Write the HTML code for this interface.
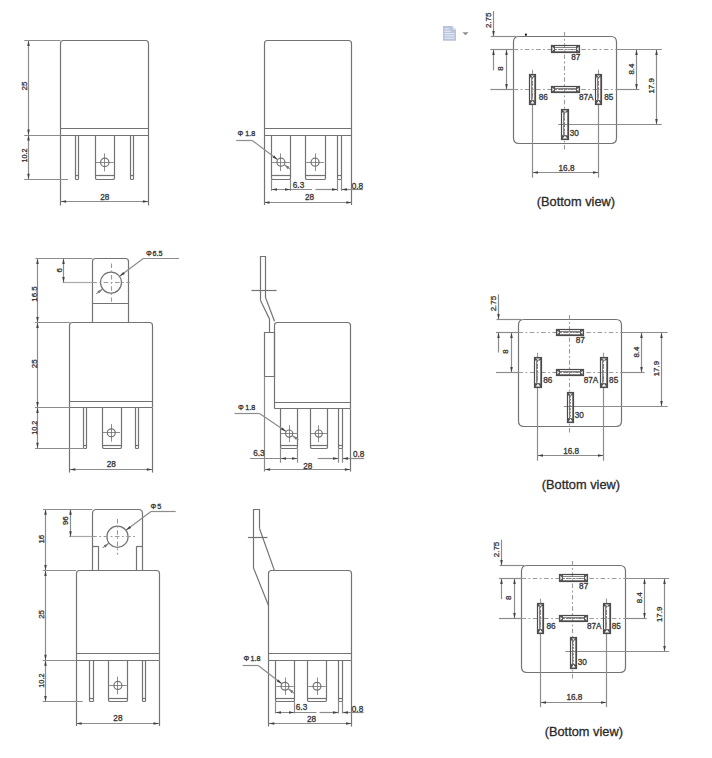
<!DOCTYPE html>
<html><head><meta charset="utf-8"><style>
html,body{margin:0;padding:0;background:#fff;}
svg{display:block;}
.l{stroke:#737373;stroke-width:1.2;fill:none;}
.d{stroke:#8c8c8c;stroke-width:1.2;fill:none;}
.c{stroke:#9a9a9a;stroke-width:1.1;fill:none;stroke-dasharray:4.5 2.5 1.8 2.5;}
.dl{stroke:#a8a8a8;stroke-width:1.2;fill:none;}
.h{stroke:#707070;stroke-width:0.8;fill:none;}
.a{fill:#404040;stroke:none;}
.pk{fill:none;stroke:#4a4a4a;stroke-width:1.2;}
.pi{fill:none;stroke:#666;stroke-width:0.8;}
.pc{fill:none;stroke:#7a6a6a;stroke-width:0.8;stroke-dasharray:2 1.2;}
.dot{fill:#111;stroke:none;}
.t{font-family:"Liberation Sans",sans-serif;fill:#353535;stroke:#353535;stroke-width:0.3;}
.tb{font-family:"Liberation Sans",sans-serif;fill:#2a2a2a;stroke:#2a2a2a;stroke-width:0.3;}
</style></head><body>
<svg width="712" height="758" viewBox="0 0 712 758">
<rect width="712" height="758" fill="#fff"/>
<path d="M60.5,135V43.5Q60.5,40.5 63.5,40.5H145.5Q148.5,40.5 148.5,43.5V135" class="l"/>
<line x1="60.6" y1="128.5" x2="148.4" y2="128.5" class="l"/>
<line x1="60.6" y1="135.5" x2="148.4" y2="135.5" class="l"/>
<line x1="60.5" y1="135" x2="60.5" y2="205.5" class="l"/>
<line x1="148.5" y1="135" x2="148.5" y2="205.5" class="l"/>
<path d="M75.5,135V178.7Q75.5,179.5 76.3,179.5H77.7Q78.5,179.5 78.5,178.7V135" class="l"/>
<line x1="75.5" y1="175.5" x2="78.5" y2="175.5" class="l"/>
<path d="M95.5,135V177.9Q95.5,179.5 97.1,179.5H112.9Q114.5,179.5 114.5,177.9V135" class="l"/>
<line x1="95.5" y1="175.5" x2="114.5" y2="175.5" class="l"/>
<path d="M130.5,135V178.7Q130.5,179.5 131.3,179.5H132.7Q133.5,179.5 133.5,178.7V135" class="l"/>
<line x1="130.5" y1="175.5" x2="133.5" y2="175.5" class="l"/>
<circle cx="104.8" cy="162.4" r="4.2" class="l"/>
<line x1="95.8" y1="162.5" x2="113.8" y2="162.5" class="h"/>
<line x1="104.5" y1="153.4" x2="104.5" y2="171.4" class="h"/>
<line x1="24.2" y1="135.5" x2="60.6" y2="135.5" class="d"/>
<line x1="24.2" y1="179.5" x2="68" y2="179.5" class="d"/>
<line x1="28.5" y1="135" x2="28.5" y2="179.2" class="d"/>
<path d="M28.5,135L29.75,140.5L27.25,140.5Z" class="a"/>
<path d="M28.5,179.2L27.25,173.7L29.75,173.7Z" class="a"/>
<line x1="60.6" y1="201.5" x2="148.4" y2="201.5" class="d"/>
<path d="M60.6,201.5L66.1,200.25L66.1,202.75Z" class="a"/>
<path d="M148.4,201.5L142.9,202.75L142.9,200.25Z" class="a"/>
<line x1="28.5" y1="40.5" x2="28.5" y2="135" class="d"/>
<path d="M28.5,40.5L29.75,46L27.25,46Z" class="a"/>
<path d="M28.5,135L27.25,129.5L29.75,129.5Z" class="a"/>
<line x1="24.2" y1="40.5" x2="60.6" y2="40.5" class="d"/>
<text x="0" y="0" font-size="7.9" text-anchor="middle" dominant-baseline="central" class="t" transform="translate(24.6,86) rotate(-90) scale(1.0,1)">25</text>
<text x="0" y="0" font-size="7.9" text-anchor="middle" dominant-baseline="central" class="t" transform="translate(24.6,155.5) rotate(-90) scale(0.92,1)">10.2</text>
<text x="104.7" y="199.9" font-size="8.2" text-anchor="middle" class="t">28</text>
<path d="M69.5,407.6V325.5Q69.5,322.5 72.5,322.5H149.5Q152.5,322.5 152.5,325.5V407.6" class="l"/>
<line x1="69.8" y1="401.5" x2="152.3" y2="401.5" class="l"/>
<line x1="69.8" y1="407.5" x2="152.3" y2="407.5" class="l"/>
<line x1="69.5" y1="407.6" x2="69.5" y2="472.6" class="l"/>
<line x1="152.5" y1="407.6" x2="152.5" y2="472.6" class="l"/>
<path d="M83.5,407.6V447.7Q83.5,448.5 84.3,448.5H85.7Q86.5,448.5 86.5,447.7V407.6" class="l"/>
<line x1="83.5" y1="445.5" x2="86.5" y2="445.5" class="l"/>
<path d="M102.5,407.6V446.9Q102.5,448.5 104.1,448.5H119.9Q121.5,448.5 121.5,446.9V407.6" class="l"/>
<line x1="102.5" y1="445.5" x2="121.5" y2="445.5" class="l"/>
<path d="M135.5,407.6V447.7Q135.5,448.5 136.3,448.5H137.7Q138.5,448.5 138.5,447.7V407.6" class="l"/>
<line x1="135.5" y1="445.5" x2="138.5" y2="445.5" class="l"/>
<circle cx="111.3" cy="432.8" r="4" class="l"/>
<line x1="102.5" y1="432.5" x2="120.1" y2="432.5" class="h"/>
<line x1="111.5" y1="424" x2="111.5" y2="441.6" class="h"/>
<line x1="35" y1="407.5" x2="69.8" y2="407.5" class="d"/>
<line x1="35" y1="448.5" x2="83" y2="448.5" class="d"/>
<line x1="37.5" y1="407.6" x2="37.5" y2="448.3" class="d"/>
<path d="M37.5,407.6L38.75,413.1L36.25,413.1Z" class="a"/>
<path d="M37.5,448.3L36.25,442.8L38.75,442.8Z" class="a"/>
<line x1="69.8" y1="469.5" x2="152.3" y2="469.5" class="d"/>
<path d="M69.8,469.5L75.3,468.25L75.3,470.75Z" class="a"/>
<path d="M152.3,469.5L146.8,470.75L146.8,468.25Z" class="a"/>
<line x1="37.5" y1="322.5" x2="37.5" y2="407.6" class="d"/>
<path d="M37.5,322.5L38.75,328L36.25,328Z" class="a"/>
<path d="M37.5,407.6L36.25,402.1L38.75,402.1Z" class="a"/>
<line x1="37.5" y1="258.4" x2="37.5" y2="322.5" class="d"/>
<path d="M37.5,258.4L38.75,263.9L36.25,263.9Z" class="a"/>
<path d="M37.5,322.5L36.25,317L38.75,317Z" class="a"/>
<line x1="35" y1="322.5" x2="69.8" y2="322.5" class="d"/>
<line x1="35.5" y1="258.5" x2="92.4" y2="258.5" class="d"/>
<path d="M92.5,322.1V261.5Q92.5,258.5 95.5,258.5H125.5Q128.5,258.5 128.5,261.5V322.1" class="l"/>
<line x1="92.4" y1="303.5" x2="128.4" y2="303.5" class="l"/>
<circle cx="111" cy="282.6" r="10.5" class="l"/>
<line x1="62.7" y1="282.5" x2="92.4" y2="282.5" class="dl"/>
<line x1="92.4" y1="282.5" x2="130" y2="282.5" class="c"/>
<line x1="111.5" y1="263.6" x2="111.5" y2="301.8" class="c"/>
<line x1="63.5" y1="258.4" x2="63.5" y2="282.6" class="d"/>
<path d="M63.5,258.4L64.75,263.9L62.25,263.9Z" class="a"/>
<path d="M63.5,282.6L62.25,277.1L64.75,277.1Z" class="a"/>
<text x="0" y="0" font-size="7.9" text-anchor="middle" dominant-baseline="central" class="t" transform="translate(59.4,270.3) rotate(-90) scale(1.0,1)">6</text>
<text x="0" y="0" font-size="7.9" text-anchor="middle" dominant-baseline="central" class="t" transform="translate(34,294) rotate(-90) scale(1.0,1)">16.5</text>
<text x="0" y="0" font-size="7.9" text-anchor="middle" dominant-baseline="central" class="t" transform="translate(34,363.8) rotate(-90) scale(1.0,1)">25</text>
<text x="0" y="0" font-size="7.9" text-anchor="middle" dominant-baseline="central" class="t" transform="translate(34,427.7) rotate(-90) scale(0.92,1)">10.2</text>
<text x="111.2" y="466.9" font-size="8.2" text-anchor="middle" class="t">28</text>
<line x1="143.6" y1="258.5" x2="179" y2="258.5" class="d"/>
<line x1="143.6" y1="258.3" x2="119.58" y2="276.34" class="d"/>
<path d="M119.58,276.34L123.22,272.03L124.73,274.03Z" class="a"/>
<path d="M102.62,289.06L98.98,293.37L97.47,291.37Z" class="a"/>
<line x1="102.62" y1="289.06" x2="96.23" y2="293.87" class="d"/>
<text x="145.9" y="256.1" font-size="7.2" text-anchor="start" class="t">Φ</text>
<text x="152.5" y="256.1" font-size="7.2" text-anchor="start" class="t">6.5</text>
<path d="M76.5,660.3V573.5Q76.5,570.5 79.5,570.5H156.5Q159.5,570.5 159.5,573.5V660.3" class="l"/>
<line x1="76.1" y1="653.5" x2="159" y2="653.5" class="l"/>
<line x1="76.1" y1="660.5" x2="159" y2="660.5" class="l"/>
<line x1="76.5" y1="660.3" x2="76.5" y2="726" class="l"/>
<line x1="159.5" y1="660.3" x2="159.5" y2="726" class="l"/>
<path d="M89.5,660.3V700.7Q89.5,701.5 90.3,701.5H92.7Q93.5,701.5 93.5,700.7V660.3" class="l"/>
<line x1="89.5" y1="698.5" x2="93.5" y2="698.5" class="l"/>
<path d="M108.5,660.3V699.9Q108.5,701.5 110.1,701.5H125.9Q127.5,701.5 127.5,699.9V660.3" class="l"/>
<line x1="108.5" y1="698.5" x2="127.5" y2="698.5" class="l"/>
<path d="M142.5,660.3V700.7Q142.5,701.5 143.3,701.5H144.7Q145.5,701.5 145.5,700.7V660.3" class="l"/>
<line x1="142.5" y1="698.5" x2="145.5" y2="698.5" class="l"/>
<circle cx="117.9" cy="685.4" r="4" class="l"/>
<line x1="109.1" y1="685.5" x2="126.7" y2="685.5" class="h"/>
<line x1="117.5" y1="676.6" x2="117.5" y2="694.2" class="h"/>
<line x1="42.7" y1="660.5" x2="76.1" y2="660.5" class="d"/>
<line x1="42.7" y1="701.5" x2="82.6" y2="701.5" class="d"/>
<line x1="45.5" y1="660.3" x2="45.5" y2="701.4" class="d"/>
<path d="M45.5,660.3L46.75,665.8L44.25,665.8Z" class="a"/>
<path d="M45.5,701.4L44.25,695.9L46.75,695.9Z" class="a"/>
<line x1="76.1" y1="723.5" x2="159" y2="723.5" class="d"/>
<path d="M76.1,723.5L81.6,722.25L81.6,724.75Z" class="a"/>
<path d="M159,723.5L153.5,724.75L153.5,722.25Z" class="a"/>
<line x1="45.5" y1="570.5" x2="45.5" y2="660.3" class="d"/>
<path d="M45.5,570.5L46.75,576L44.25,576Z" class="a"/>
<path d="M45.5,660.3L44.25,654.8L46.75,654.8Z" class="a"/>
<line x1="45.5" y1="509.3" x2="45.5" y2="570.5" class="d"/>
<path d="M45.5,509.3L46.75,514.8L44.25,514.8Z" class="a"/>
<path d="M45.5,570.5L44.25,565L46.75,565Z" class="a"/>
<line x1="42.7" y1="570.5" x2="76.1" y2="570.5" class="d"/>
<line x1="43" y1="509.5" x2="92.3" y2="509.5" class="d"/>
<path d="M92.5,570.5V513.5Q92.5,509.5 96.5,509.5H138.5Q142.5,509.5 142.5,513.5V570.5" class="l"/>
<line x1="92.3" y1="546.5" x2="98.8" y2="546.5" class="l"/>
<line x1="98.5" y1="546.3" x2="98.5" y2="570.5" class="l"/>
<line x1="136.5" y1="546.5" x2="142.3" y2="546.5" class="l"/>
<line x1="136.5" y1="546.3" x2="136.5" y2="570.5" class="l"/>
<circle cx="117.5" cy="536.7" r="10.6" class="l"/>
<line x1="69" y1="536.5" x2="92.3" y2="536.5" class="dl"/>
<line x1="92.3" y1="536.5" x2="137" y2="536.5" class="c"/>
<line x1="117.5" y1="518.9" x2="117.5" y2="554.7" class="c"/>
<line x1="70.5" y1="509.3" x2="70.5" y2="536.7" class="d"/>
<path d="M70.5,509.3L71.75,514.8L69.25,514.8Z" class="a"/>
<path d="M70.5,536.7L69.25,531.2L71.75,531.2Z" class="a"/>
<text x="0" y="0" font-size="7.9" text-anchor="middle" dominant-baseline="central" class="t" transform="translate(65.5,520.7) rotate(-90) scale(1.0,1)">96</text>
<text x="0" y="0" font-size="7.9" text-anchor="middle" dominant-baseline="central" class="t" transform="translate(41.8,539.2) rotate(-90) scale(1.0,1)">16</text>
<text x="0" y="0" font-size="7.9" text-anchor="middle" dominant-baseline="central" class="t" transform="translate(41.8,614.4) rotate(-90) scale(1.0,1)">25</text>
<text x="0" y="0" font-size="7.9" text-anchor="middle" dominant-baseline="central" class="t" transform="translate(41.8,680.6) rotate(-90) scale(0.92,1)">10.2</text>
<text x="117.9" y="720.6" font-size="8.2" text-anchor="middle" class="t">28</text>
<line x1="151" y1="511.5" x2="175.7" y2="511.5" class="d"/>
<line x1="151" y1="511.5" x2="125.97" y2="530.33" class="d"/>
<path d="M125.97,530.33L129.61,526.02L131.12,528.02Z" class="a"/>
<path d="M109.03,543.07L105.39,547.38L103.88,545.38Z" class="a"/>
<line x1="109.03" y1="543.07" x2="102.64" y2="547.88" class="d"/>
<text x="150.4" y="509.4" font-size="7.2" text-anchor="start" class="t">Φ</text>
<text x="157.2" y="509.4" font-size="7.2" text-anchor="start" class="t">5</text>
<path d="M264.5,135.2V43.5Q264.5,40.5 267.5,40.5H348.5Q351.5,40.5 351.5,43.5V135.2" class="l"/>
<line x1="264" y1="128.5" x2="351.8" y2="128.5" class="l"/>
<line x1="264" y1="135.5" x2="351.8" y2="135.5" class="l"/>
<line x1="351.5" y1="135.2" x2="351.5" y2="205" class="l"/>
<line x1="264.5" y1="135.2" x2="264.5" y2="205" class="l"/>
<path d="M271.5,135.2V177.9Q271.5,179.5 273.1,179.5H288.9Q290.5,179.5 290.5,177.9V135.2" class="l"/>
<line x1="271.5" y1="175.5" x2="290.5" y2="175.5" class="l"/>
<path d="M305.5,135.2V177.9Q305.5,179.5 307.1,179.5H323.9Q325.5,179.5 325.5,177.9V135.2" class="l"/>
<line x1="305.5" y1="175.5" x2="325.5" y2="175.5" class="l"/>
<path d="M337.5,135.2V179Q337.5,179.5 338,179.5H341Q341.5,179.5 341.5,179V135.2" class="l"/>
<line x1="337.5" y1="175.5" x2="341.5" y2="175.5" class="l"/>
<circle cx="280.95" cy="162.2" r="4" class="l"/>
<line x1="272.15" y1="162.5" x2="289.75" y2="162.5" class="h"/>
<line x1="280.5" y1="153.4" x2="280.5" y2="171" class="h"/>
<circle cx="315.1" cy="162.2" r="4" class="l"/>
<line x1="306.3" y1="162.5" x2="323.9" y2="162.5" class="h"/>
<line x1="315.5" y1="153.4" x2="315.5" y2="171" class="h"/>
<line x1="264" y1="202.5" x2="351.8" y2="202.5" class="d"/>
<path d="M264,202.5L269.5,201.25L269.5,203.75Z" class="a"/>
<path d="M351.8,202.5L346.3,203.75L346.3,201.25Z" class="a"/>
<line x1="271.5" y1="179.2" x2="271.5" y2="190.9" class="d"/>
<line x1="290.5" y1="179.2" x2="290.5" y2="190.9" class="d"/>
<line x1="337.5" y1="179.2" x2="337.5" y2="190.9" class="d"/>
<line x1="341.5" y1="179.2" x2="341.5" y2="190.9" class="d"/>
<line x1="271.1" y1="189.5" x2="312" y2="189.5" class="d"/>
<path d="M271.5,189.5L277,188.25L277,190.75Z" class="a"/>
<path d="M290.5,189.5L285,190.75L285,188.25Z" class="a"/>
<line x1="315.5" y1="189.5" x2="337.6" y2="189.5" class="d"/>
<path d="M337.5,189.5L332,190.75L332,188.25Z" class="a"/>
<line x1="341.8" y1="189.5" x2="363" y2="189.5" class="d"/>
<path d="M341.5,189.5L347,188.25L347,190.75Z" class="a"/>
<text x="298.5" y="187.7" font-size="8.2" text-anchor="middle" class="t">6.3</text>
<text x="357.4" y="189.2" font-size="8.2" text-anchor="middle" class="t">0.8</text>
<text x="309.6" y="199.9" font-size="8.2" text-anchor="middle" class="t">28</text>
<text x="237.5" y="136.3" font-size="7.2" text-anchor="start" class="t">Φ</text>
<text x="245.2" y="136.3" font-size="7.2" text-anchor="start" class="t">1.8</text>
<line x1="236.2" y1="140.5" x2="252.2" y2="140.5" class="d"/>
<line x1="252.2" y1="140.5" x2="277.76" y2="159.79" class="d"/>
<path d="M277.76,159.79L272.61,157.47L274.12,155.48Z" class="a"/>
<path d="M284.14,164.61L289.29,166.93L287.78,168.92Z" class="a"/>
<line x1="284.14" y1="164.61" x2="290.13" y2="169.13" class="d"/>
<line x1="274.4" y1="402.5" x2="350.3" y2="402.5" class="l"/>
<line x1="274.4" y1="408.5" x2="350.3" y2="408.5" class="l"/>
<line x1="350.5" y1="408.6" x2="350.5" y2="471.6" class="l"/>
<path d="M280.5,408.6V446.9Q280.5,448.5 282.1,448.5H295.9Q297.5,448.5 297.5,446.9V408.6" class="l"/>
<line x1="280.5" y1="445.5" x2="297.5" y2="445.5" class="l"/>
<path d="M310.5,408.6V446.9Q310.5,448.5 312.1,448.5H325.9Q327.5,448.5 327.5,446.9V408.6" class="l"/>
<line x1="310.5" y1="445.5" x2="327.5" y2="445.5" class="l"/>
<path d="M338.5,408.6V448Q338.5,448.5 339,448.5H342Q342.5,448.5 342.5,448V408.6" class="l"/>
<line x1="338.5" y1="445.5" x2="342.5" y2="445.5" class="l"/>
<circle cx="289.15" cy="433.6" r="3.6" class="l"/>
<line x1="280.75" y1="433.5" x2="297.55" y2="433.5" class="h"/>
<line x1="289.5" y1="425.2" x2="289.5" y2="442" class="h"/>
<circle cx="318.75" cy="433.6" r="3.6" class="l"/>
<line x1="310.35" y1="433.5" x2="327.15" y2="433.5" class="h"/>
<line x1="318.5" y1="425.2" x2="318.5" y2="442" class="h"/>
<line x1="264.6" y1="469.5" x2="350.3" y2="469.5" class="d"/>
<path d="M264.6,469.5L270.1,468.25L270.1,470.75Z" class="a"/>
<path d="M350.3,469.5L344.8,470.75L344.8,468.25Z" class="a"/>
<line x1="280.5" y1="448.6" x2="280.5" y2="462.8" class="d"/>
<line x1="297.5" y1="448.6" x2="297.5" y2="462.8" class="d"/>
<line x1="338.5" y1="448.6" x2="338.5" y2="462.8" class="d"/>
<line x1="342.5" y1="448.6" x2="342.5" y2="462.8" class="d"/>
<path d="M274.5,408.6V325.2Q274.5,322.5 277.5,322.5H347.5Q350.5,322.5 350.5,325.5V408.6" class="l"/>
<path d="M260.5,300.5V256.5H265.5V297.5L274.5,321.3" class="l"/>
<path d="M260.5,300.5L269.5,318.9V332.5" class="l"/>
<path d="M264.5,376.5V332.5H274.5V376.5H264.5Z" class="l"/>
<path d="M264.5,376.5V471.6" class="d"/>
<line x1="251.5" y1="290.5" x2="276.5" y2="290.5" class="l"/>
<line x1="250" y1="458.5" x2="297.8" y2="458.5" class="d"/>
<path d="M280.5,458.5L286,457.25L286,459.75Z" class="a"/>
<path d="M297.5,458.5L292,459.75L292,457.25Z" class="a"/>
<line x1="317.6" y1="458.5" x2="338.1" y2="458.5" class="d"/>
<path d="M338.5,458.5L333,459.75L333,457.25Z" class="a"/>
<line x1="342.1" y1="458.5" x2="364.2" y2="458.5" class="d"/>
<path d="M342.5,458.5L348,457.25L348,459.75Z" class="a"/>
<text x="258.9" y="455.8" font-size="8.2" text-anchor="middle" class="t">6.3</text>
<text x="358.6" y="456.8" font-size="8.2" text-anchor="middle" class="t">0.8</text>
<text x="307.8" y="469.2" font-size="8.2" text-anchor="middle" class="t">28</text>
<text x="238.1" y="409.7" font-size="7.2" text-anchor="start" class="t">Φ</text>
<text x="245.2" y="409.7" font-size="7.2" text-anchor="start" class="t">1.8</text>
<line x1="234.5" y1="413.5" x2="259.5" y2="413.5" class="d"/>
<line x1="259.5" y1="413.6" x2="286.17" y2="431.59" class="d"/>
<path d="M286.17,431.59L280.91,429.55L282.3,427.47Z" class="a"/>
<path d="M292.13,435.61L297.39,437.65L296,439.73Z" class="a"/>
<line x1="292.13" y1="435.61" x2="298.35" y2="439.81" class="d"/>
<path d="M268.5,660.3V573.5Q268.5,570.5 271.5,570.5H348.5Q351.5,570.5 351.5,573.5V660.3" class="l"/>
<line x1="268.8" y1="653.5" x2="351.5" y2="653.5" class="l"/>
<line x1="268.8" y1="660.5" x2="351.5" y2="660.5" class="l"/>
<line x1="351.5" y1="660.3" x2="351.5" y2="726.5" class="l"/>
<line x1="268.5" y1="660.3" x2="268.5" y2="726.5" class="l"/>
<path d="M275.5,660.3V699.9Q275.5,701.5 277.1,701.5H292.9Q294.5,701.5 294.5,699.9V660.3" class="l"/>
<line x1="275.5" y1="698.5" x2="294.5" y2="698.5" class="l"/>
<path d="M307.5,660.3V699.9Q307.5,701.5 309.1,701.5H324.9Q326.5,701.5 326.5,699.9V660.3" class="l"/>
<line x1="307.5" y1="698.5" x2="326.5" y2="698.5" class="l"/>
<path d="M338.5,660.3V701Q338.5,701.5 339,701.5H342Q342.5,701.5 342.5,701V660.3" class="l"/>
<line x1="338.5" y1="698.5" x2="342.5" y2="698.5" class="l"/>
<circle cx="285" cy="686.2" r="3.9" class="l"/>
<line x1="276.3" y1="686.5" x2="293.7" y2="686.5" class="h"/>
<line x1="285.5" y1="677.5" x2="285.5" y2="694.9" class="h"/>
<circle cx="317" cy="686.2" r="3.9" class="l"/>
<line x1="308.3" y1="686.5" x2="325.7" y2="686.5" class="h"/>
<line x1="317.5" y1="677.5" x2="317.5" y2="694.9" class="h"/>
<line x1="268.8" y1="723.5" x2="351.5" y2="723.5" class="d"/>
<path d="M268.8,723.5L274.3,722.25L274.3,724.75Z" class="a"/>
<path d="M351.5,723.5L346,724.75L346,722.25Z" class="a"/>
<line x1="275.5" y1="701.3" x2="275.5" y2="713.4" class="d"/>
<line x1="294.5" y1="701.3" x2="294.5" y2="713.4" class="d"/>
<line x1="338.5" y1="701.3" x2="338.5" y2="713.4" class="d"/>
<line x1="342.5" y1="701.3" x2="342.5" y2="713.4" class="d"/>
<path d="M259.5,528.5V509.5H253.5V568L268.5,605.5" class="l"/>
<path d="M259.5,528.5L274.3,570.1" class="l"/>
<line x1="247.9" y1="537.5" x2="267.5" y2="537.5" class="l"/>
<line x1="275.6" y1="712.5" x2="316.5" y2="712.5" class="d"/>
<path d="M275.5,712.5L281,711.25L281,713.75Z" class="a"/>
<path d="M294.5,712.5L289,713.75L289,711.25Z" class="a"/>
<line x1="319.5" y1="712.5" x2="338.5" y2="712.5" class="d"/>
<path d="M338.5,712.5L333,713.75L333,711.25Z" class="a"/>
<line x1="342.1" y1="712.5" x2="363.7" y2="712.5" class="d"/>
<path d="M342.5,712.5L348,711.25L348,713.75Z" class="a"/>
<text x="301.5" y="710.3" font-size="8.2" text-anchor="middle" class="t">6.3</text>
<text x="357.5" y="711.7" font-size="8.2" text-anchor="middle" class="t">0.8</text>
<text x="311.6" y="722.3" font-size="8.2" text-anchor="middle" class="t">28</text>
<text x="243.5" y="661.3" font-size="7.2" text-anchor="start" class="t">Φ</text>
<text x="250.6" y="661.3" font-size="7.2" text-anchor="start" class="t">1.8</text>
<line x1="242.6" y1="665.5" x2="258.2" y2="665.5" class="d"/>
<line x1="258.2" y1="665.5" x2="281.91" y2="683.82" class="d"/>
<path d="M281.91,683.82L276.8,681.44L278.32,679.46Z" class="a"/>
<path d="M288.09,688.58L293.2,690.96L291.68,692.94Z" class="a"/>
<line x1="288.09" y1="688.58" x2="294.02" y2="693.17" class="d"/>
<path d="M513.5,42Q513.5,36.5 519,36.5H611Q616.5,36.5 616.5,42V138Q616.5,143.5 611,143.5H519Q513.5,143.5 513.5,138Z" class="l"/>
<line x1="490.3" y1="49.5" x2="513.5" y2="49.5" class="d"/>
<line x1="513.5" y1="49.5" x2="616.5" y2="49.5" class="c"/>
<line x1="616.5" y1="49.5" x2="661.8" y2="49.5" class="d"/>
<line x1="490.3" y1="89.5" x2="513.5" y2="89.5" class="d"/>
<line x1="513.5" y1="89.5" x2="616.5" y2="89.5" class="c"/>
<line x1="616.5" y1="89.5" x2="639.3" y2="89.5" class="d"/>
<line x1="490.8" y1="36.5" x2="516.5" y2="36.5" class="d"/>
<line x1="564.5" y1="32" x2="564.5" y2="152" class="c"/>
<line x1="532.5" y1="69.8" x2="532.5" y2="104.7" class="c"/>
<line x1="598.5" y1="69.8" x2="598.5" y2="104.7" class="c"/>
<line x1="532.5" y1="104.7" x2="532.5" y2="177.7" class="d"/>
<line x1="598.5" y1="104.7" x2="598.5" y2="177.7" class="d"/>
<line x1="558.1" y1="124.5" x2="661.8" y2="124.5" class="d"/>
<rect x="551.5" y="45.5" width="28" height="7" class="pk"/>
<rect x="551.5" y="45.5" width="3.5" height="7" fill="#555"/>
<path d="M552.4,46.7V51.3L554.3,49Z" fill="#fff"/>
<rect x="576" y="45.5" width="3.5" height="7" fill="#555"/>
<path d="M578.6,46.7V51.3L576.7,49Z" fill="#fff"/>
<line x1="555" y1="47.5" x2="576" y2="47.5" class="pi"/>
<line x1="555" y1="51.5" x2="576" y2="51.5" class="pi"/>
<line x1="555" y1="49.5" x2="576" y2="49.5" class="pc"/>
<rect x="551.5" y="86.5" width="28" height="6" class="pk"/>
<rect x="551.5" y="86.5" width="3.5" height="6" fill="#555"/>
<path d="M552.4,87.7V91.3L554.3,89.5Z" fill="#fff"/>
<rect x="576" y="86.5" width="3.5" height="6" fill="#555"/>
<path d="M578.6,87.7V91.3L576.7,89.5Z" fill="#fff"/>
<line x1="555" y1="88.5" x2="576" y2="88.5" class="pi"/>
<line x1="555" y1="91.5" x2="576" y2="91.5" class="pi"/>
<line x1="555" y1="89.5" x2="576" y2="89.5" class="pc"/>
<rect x="529.5" y="74.5" width="6" height="30" class="pk"/>
<rect x="529.5" y="74.5" width="6" height="3" fill="#505050"/>
<path d="M530.7,75.4H534.3L532.5,77.1Z" fill="#fff"/>
<rect x="529.5" y="100.2" width="6" height="4.3" fill="#505050"/>
<path d="M530.6,103.6H534.4L532.5,100.7Z" fill="#fff"/>
<line x1="531.5" y1="77.5" x2="531.5" y2="100.2" class="pi"/>
<line x1="534.5" y1="77.5" x2="534.5" y2="100.2" class="pi"/>
<line x1="532.5" y1="77.5" x2="532.5" y2="100.2" class="pc"/>
<rect x="595.5" y="74.5" width="6" height="30" class="pk"/>
<rect x="595.5" y="74.5" width="6" height="3" fill="#505050"/>
<path d="M596.7,75.4H600.3L598.5,77.1Z" fill="#fff"/>
<rect x="595.5" y="100.2" width="6" height="4.3" fill="#505050"/>
<path d="M596.6,103.6H600.4L598.5,100.7Z" fill="#fff"/>
<line x1="597.5" y1="77.5" x2="597.5" y2="100.2" class="pi"/>
<line x1="600.5" y1="77.5" x2="600.5" y2="100.2" class="pi"/>
<line x1="598.5" y1="77.5" x2="598.5" y2="100.2" class="pc"/>
<rect x="561.5" y="109.5" width="7" height="30" class="pk"/>
<rect x="561.5" y="109.5" width="7" height="3" fill="#505050"/>
<path d="M562.7,110.4H567.3L565,112.1Z" fill="#fff"/>
<rect x="561.5" y="135.2" width="7" height="4.3" fill="#505050"/>
<path d="M562.6,138.6H567.4L565,135.7Z" fill="#fff"/>
<line x1="563.5" y1="112.5" x2="563.5" y2="135.2" class="pi"/>
<line x1="567.5" y1="112.5" x2="567.5" y2="135.2" class="pi"/>
<line x1="564.5" y1="112.5" x2="564.5" y2="135.2" class="pc"/>
<line x1="493.5" y1="11" x2="493.5" y2="36.5" class="d"/>
<path d="M493.5,36.5L492.25,31L494.75,31Z" class="a"/>
<line x1="493.5" y1="49.1" x2="493.5" y2="70.3" class="d"/>
<path d="M493.5,49.5L494.75,55L492.25,55Z" class="a"/>
<line x1="506.5" y1="49.5" x2="506.5" y2="89.5" class="d"/>
<path d="M506.5,49.5L507.75,55L505.25,55Z" class="a"/>
<path d="M506.5,89.5L505.25,84L507.75,84Z" class="a"/>
<line x1="636.5" y1="49.5" x2="636.5" y2="89.5" class="d"/>
<path d="M636.5,49.5L637.75,55L635.25,55Z" class="a"/>
<path d="M636.5,89.5L635.25,84L637.75,84Z" class="a"/>
<line x1="656.5" y1="49.5" x2="656.5" y2="124.5" class="d"/>
<path d="M656.5,49.5L657.75,55L655.25,55Z" class="a"/>
<path d="M656.5,124.5L655.25,119L657.75,119Z" class="a"/>
<line x1="532.5" y1="172.5" x2="598.5" y2="172.5" class="d"/>
<path d="M532.5,172.5L538,171.25L538,173.75Z" class="a"/>
<path d="M598.5,172.5L593,173.75L593,171.25Z" class="a"/>
<text x="0" y="0" font-size="7.9" text-anchor="middle" dominant-baseline="central" class="t" transform="translate(488.6,20.3) rotate(-90) scale(1.0,1)">2.75</text>
<text x="0" y="0" font-size="7.9" text-anchor="middle" dominant-baseline="central" class="t" transform="translate(500.6,68.5) rotate(-90) scale(1.0,1)">8</text>
<text x="0" y="0" font-size="7.9" text-anchor="middle" dominant-baseline="central" class="t" transform="translate(631.1,69.1) rotate(-90) scale(1.0,1)">8.4</text>
<text x="0" y="0" font-size="7.9" text-anchor="middle" dominant-baseline="central" class="t" transform="translate(651.9,85.9) rotate(-90) scale(1.0,1)">17.9</text>
<text x="571.2" y="59.7" font-size="8.2" text-anchor="start" class="t">87</text>
<text x="538.7" y="100.1" font-size="8.2" text-anchor="start" class="t">86</text>
<text x="578.9" y="100.1" font-size="8.2" text-anchor="start" class="t">87A</text>
<text x="604.2" y="100.1" font-size="8.2" text-anchor="start" class="t">85</text>
<text x="569.7" y="135.8" font-size="8.2" text-anchor="start" class="t">30</text>
<text x="566.5" y="170.9" font-size="8.2" text-anchor="middle" class="t">16.8</text>
<circle cx="525.9" cy="34.7" r="1.1" class="dot"/>
<path d="M518.5,325Q518.5,319.5 524,319.5H616Q621.5,319.5 621.5,325V421Q621.5,426.5 616,426.5H524Q518.5,426.5 518.5,421Z" class="l"/>
<line x1="496" y1="332.5" x2="518.5" y2="332.5" class="d"/>
<line x1="518.5" y1="332.5" x2="621.5" y2="332.5" class="c"/>
<line x1="621.5" y1="332.5" x2="667.6" y2="332.5" class="d"/>
<line x1="496" y1="372.5" x2="518.5" y2="372.5" class="d"/>
<line x1="518.5" y1="372.5" x2="621.5" y2="372.5" class="c"/>
<line x1="621.5" y1="372.5" x2="644.5" y2="372.5" class="d"/>
<line x1="496.5" y1="319.5" x2="521.5" y2="319.5" class="d"/>
<line x1="569.5" y1="315" x2="569.5" y2="435" class="c"/>
<line x1="537.5" y1="352.8" x2="537.5" y2="387.6" class="c"/>
<line x1="603.5" y1="352.8" x2="603.5" y2="387.6" class="c"/>
<line x1="537.5" y1="387.6" x2="537.5" y2="460.7" class="d"/>
<line x1="603.5" y1="387.6" x2="603.5" y2="460.7" class="d"/>
<line x1="563.8" y1="406.5" x2="667.6" y2="406.5" class="d"/>
<rect x="556.5" y="329.5" width="27" height="6" class="pk"/>
<rect x="556.5" y="329.5" width="3.5" height="6" fill="#555"/>
<path d="M557.4,330.7V334.3L559.3,332.5Z" fill="#fff"/>
<rect x="580" y="329.5" width="3.5" height="6" fill="#555"/>
<path d="M582.6,330.7V334.3L580.7,332.5Z" fill="#fff"/>
<line x1="560" y1="331.5" x2="580" y2="331.5" class="pi"/>
<line x1="560" y1="334.5" x2="580" y2="334.5" class="pi"/>
<line x1="560" y1="332.5" x2="580" y2="332.5" class="pc"/>
<rect x="556.5" y="369.5" width="27" height="6" class="pk"/>
<rect x="556.5" y="369.5" width="3.5" height="6" fill="#555"/>
<path d="M557.4,370.7V374.3L559.3,372.5Z" fill="#fff"/>
<rect x="580" y="369.5" width="3.5" height="6" fill="#555"/>
<path d="M582.6,370.7V374.3L580.7,372.5Z" fill="#fff"/>
<line x1="560" y1="371.5" x2="580" y2="371.5" class="pi"/>
<line x1="560" y1="374.5" x2="580" y2="374.5" class="pi"/>
<line x1="560" y1="372.5" x2="580" y2="372.5" class="pc"/>
<rect x="534.5" y="357.5" width="7" height="30" class="pk"/>
<rect x="534.5" y="357.5" width="7" height="3" fill="#505050"/>
<path d="M535.7,358.4H540.3L538,360.1Z" fill="#fff"/>
<rect x="534.5" y="383.2" width="7" height="4.3" fill="#505050"/>
<path d="M535.6,386.6H540.4L538,383.7Z" fill="#fff"/>
<line x1="536.5" y1="360.5" x2="536.5" y2="383.2" class="pi"/>
<line x1="540.5" y1="360.5" x2="540.5" y2="383.2" class="pi"/>
<line x1="537.5" y1="360.5" x2="537.5" y2="383.2" class="pc"/>
<rect x="600.5" y="357.5" width="7" height="30" class="pk"/>
<rect x="600.5" y="357.5" width="7" height="3" fill="#505050"/>
<path d="M601.7,358.4H606.3L604,360.1Z" fill="#fff"/>
<rect x="600.5" y="383.2" width="7" height="4.3" fill="#505050"/>
<path d="M601.6,386.6H606.4L604,383.7Z" fill="#fff"/>
<line x1="602.5" y1="360.5" x2="602.5" y2="383.2" class="pi"/>
<line x1="606.5" y1="360.5" x2="606.5" y2="383.2" class="pi"/>
<line x1="603.5" y1="360.5" x2="603.5" y2="383.2" class="pc"/>
<rect x="567.5" y="392.5" width="6" height="30" class="pk"/>
<rect x="567.5" y="392.5" width="6" height="3" fill="#505050"/>
<path d="M568.7,393.4H572.3L570.5,395.1Z" fill="#fff"/>
<rect x="567.5" y="418.2" width="6" height="4.3" fill="#505050"/>
<path d="M568.6,421.6H572.4L570.5,418.7Z" fill="#fff"/>
<line x1="569.5" y1="395.5" x2="569.5" y2="418.2" class="pi"/>
<line x1="572.5" y1="395.5" x2="572.5" y2="418.2" class="pi"/>
<line x1="570.5" y1="395.5" x2="570.5" y2="418.2" class="pc"/>
<line x1="498.5" y1="294.3" x2="498.5" y2="319.5" class="d"/>
<path d="M498.5,319.5L497.25,314L499.75,314Z" class="a"/>
<line x1="498.5" y1="332.2" x2="498.5" y2="352.5" class="d"/>
<path d="M498.5,332.5L499.75,338L497.25,338Z" class="a"/>
<line x1="511.5" y1="332.5" x2="511.5" y2="372.5" class="d"/>
<path d="M511.5,332.5L512.75,338L510.25,338Z" class="a"/>
<path d="M511.5,372.5L510.25,367L512.75,367Z" class="a"/>
<line x1="641.5" y1="332.5" x2="641.5" y2="372.5" class="d"/>
<path d="M641.5,332.5L642.75,338L640.25,338Z" class="a"/>
<path d="M641.5,372.5L640.25,367L642.75,367Z" class="a"/>
<line x1="661.5" y1="332.5" x2="661.5" y2="406.5" class="d"/>
<path d="M661.5,332.5L662.75,338L660.25,338Z" class="a"/>
<path d="M661.5,406.5L660.25,401L662.75,401Z" class="a"/>
<line x1="537.5" y1="455.5" x2="603.5" y2="455.5" class="d"/>
<path d="M537.5,455.5L543,454.25L543,456.75Z" class="a"/>
<path d="M603.5,455.5L598,456.75L598,454.25Z" class="a"/>
<text x="0" y="0" font-size="7.9" text-anchor="middle" dominant-baseline="central" class="t" transform="translate(493.8,303.6) rotate(-90) scale(1.0,1)">2.75</text>
<text x="0" y="0" font-size="7.9" text-anchor="middle" dominant-baseline="central" class="t" transform="translate(505.5,351.6) rotate(-90) scale(1.0,1)">8</text>
<text x="0" y="0" font-size="7.9" text-anchor="middle" dominant-baseline="central" class="t" transform="translate(636.6,352.1) rotate(-90) scale(1.0,1)">8.4</text>
<text x="0" y="0" font-size="7.9" text-anchor="middle" dominant-baseline="central" class="t" transform="translate(656.6,368.6) rotate(-90) scale(1.0,1)">17.9</text>
<text x="575.8" y="342.8" font-size="8.2" text-anchor="start" class="t">87</text>
<text x="543.3" y="383" font-size="8.2" text-anchor="start" class="t">86</text>
<text x="583.7" y="383" font-size="8.2" text-anchor="start" class="t">87A</text>
<text x="609.1" y="383" font-size="8.2" text-anchor="start" class="t">85</text>
<text x="574.8" y="418.3" font-size="8.2" text-anchor="start" class="t">30</text>
<text x="571.2" y="453.8" font-size="8.2" text-anchor="middle" class="t">16.8</text>
<path d="M521.5,571Q521.5,565.5 527,565.5H620Q625.5,565.5 625.5,571V667Q625.5,672.5 620,672.5H527Q521.5,672.5 521.5,667Z" class="l"/>
<line x1="499" y1="578.5" x2="521.5" y2="578.5" class="d"/>
<line x1="521.5" y1="578.5" x2="625.5" y2="578.5" class="c"/>
<line x1="625.5" y1="578.5" x2="669.2" y2="578.5" class="d"/>
<line x1="499" y1="618.5" x2="521.5" y2="618.5" class="d"/>
<line x1="521.5" y1="618.5" x2="625.5" y2="618.5" class="c"/>
<line x1="625.5" y1="618.5" x2="646.6" y2="618.5" class="d"/>
<line x1="499.5" y1="565.5" x2="524.5" y2="565.5" class="d"/>
<line x1="572.5" y1="561" x2="572.5" y2="681" class="c"/>
<line x1="540.5" y1="598.6" x2="540.5" y2="633.8" class="c"/>
<line x1="606.5" y1="598.6" x2="606.5" y2="633.8" class="c"/>
<line x1="540.5" y1="633.8" x2="540.5" y2="707.1" class="d"/>
<line x1="606.5" y1="633.8" x2="606.5" y2="707.1" class="d"/>
<line x1="565.4" y1="651.5" x2="669.2" y2="651.5" class="d"/>
<rect x="559.5" y="574.5" width="28" height="7" class="pk"/>
<rect x="559.5" y="574.5" width="3.5" height="7" fill="#555"/>
<path d="M560.4,575.7V580.3L562.3,578Z" fill="#fff"/>
<rect x="584" y="574.5" width="3.5" height="7" fill="#555"/>
<path d="M586.6,575.7V580.3L584.7,578Z" fill="#fff"/>
<line x1="563" y1="576.5" x2="584" y2="576.5" class="pi"/>
<line x1="563" y1="580.5" x2="584" y2="580.5" class="pi"/>
<line x1="563" y1="578.5" x2="584" y2="578.5" class="pc"/>
<rect x="559.5" y="615.5" width="28" height="6" class="pk"/>
<rect x="559.5" y="615.5" width="3.5" height="6" fill="#555"/>
<path d="M560.4,616.7V620.3L562.3,618.5Z" fill="#fff"/>
<rect x="584" y="615.5" width="3.5" height="6" fill="#555"/>
<path d="M586.6,616.7V620.3L584.7,618.5Z" fill="#fff"/>
<line x1="563" y1="617.5" x2="584" y2="617.5" class="pi"/>
<line x1="563" y1="620.5" x2="584" y2="620.5" class="pi"/>
<line x1="563" y1="618.5" x2="584" y2="618.5" class="pc"/>
<rect x="537.5" y="603.5" width="6" height="30" class="pk"/>
<rect x="537.5" y="603.5" width="6" height="3" fill="#505050"/>
<path d="M538.7,604.4H542.3L540.5,606.1Z" fill="#fff"/>
<rect x="537.5" y="629.2" width="6" height="4.3" fill="#505050"/>
<path d="M538.6,632.6H542.4L540.5,629.7Z" fill="#fff"/>
<line x1="539.5" y1="606.5" x2="539.5" y2="629.2" class="pi"/>
<line x1="542.5" y1="606.5" x2="542.5" y2="629.2" class="pi"/>
<line x1="540.5" y1="606.5" x2="540.5" y2="629.2" class="pc"/>
<rect x="603.5" y="603.5" width="7" height="30" class="pk"/>
<rect x="603.5" y="603.5" width="7" height="3" fill="#505050"/>
<path d="M604.7,604.4H609.3L607,606.1Z" fill="#fff"/>
<rect x="603.5" y="629.2" width="7" height="4.3" fill="#505050"/>
<path d="M604.6,632.6H609.4L607,629.7Z" fill="#fff"/>
<line x1="605.5" y1="606.5" x2="605.5" y2="629.2" class="pi"/>
<line x1="609.5" y1="606.5" x2="609.5" y2="629.2" class="pi"/>
<line x1="606.5" y1="606.5" x2="606.5" y2="629.2" class="pc"/>
<rect x="570.5" y="637.5" width="6" height="31" class="pk"/>
<rect x="570.5" y="637.5" width="6" height="3" fill="#505050"/>
<path d="M571.7,638.4H575.3L573.5,640.1Z" fill="#fff"/>
<rect x="570.5" y="664.2" width="6" height="4.3" fill="#505050"/>
<path d="M571.6,667.6H575.4L573.5,664.7Z" fill="#fff"/>
<line x1="572.5" y1="640.5" x2="572.5" y2="664.2" class="pi"/>
<line x1="575.5" y1="640.5" x2="575.5" y2="664.2" class="pi"/>
<line x1="573.5" y1="640.5" x2="573.5" y2="664.2" class="pc"/>
<line x1="501.5" y1="539.8" x2="501.5" y2="565.5" class="d"/>
<path d="M501.5,565.5L500.25,560L502.75,560Z" class="a"/>
<line x1="501.5" y1="578" x2="501.5" y2="599.2" class="d"/>
<path d="M501.5,578.5L502.75,584L500.25,584Z" class="a"/>
<line x1="514.5" y1="578.5" x2="514.5" y2="618.5" class="d"/>
<path d="M514.5,578.5L515.75,584L513.25,584Z" class="a"/>
<path d="M514.5,618.5L513.25,613L515.75,613Z" class="a"/>
<line x1="644.5" y1="578.5" x2="644.5" y2="618.5" class="d"/>
<path d="M644.5,578.5L645.75,584L643.25,584Z" class="a"/>
<path d="M644.5,618.5L643.25,613L645.75,613Z" class="a"/>
<line x1="664.5" y1="578.5" x2="664.5" y2="651.5" class="d"/>
<path d="M664.5,578.5L665.75,584L663.25,584Z" class="a"/>
<path d="M664.5,651.5L663.25,646L665.75,646Z" class="a"/>
<line x1="540.5" y1="702.5" x2="606.5" y2="702.5" class="d"/>
<path d="M540.5,702.5L546,701.25L546,703.75Z" class="a"/>
<path d="M606.5,702.5L601,703.75L601,701.25Z" class="a"/>
<text x="0" y="0" font-size="7.9" text-anchor="middle" dominant-baseline="central" class="t" transform="translate(496.6,549.5) rotate(-90) scale(1.0,1)">2.75</text>
<text x="0" y="0" font-size="7.9" text-anchor="middle" dominant-baseline="central" class="t" transform="translate(508.7,597.8) rotate(-90) scale(1.0,1)">8</text>
<text x="0" y="0" font-size="7.9" text-anchor="middle" dominant-baseline="central" class="t" transform="translate(639.6,597.7) rotate(-90) scale(1.0,1)">8.4</text>
<text x="0" y="0" font-size="7.9" text-anchor="middle" dominant-baseline="central" class="t" transform="translate(659.9,614.4) rotate(-90) scale(1.0,1)">17.9</text>
<text x="579.1" y="589" font-size="8.2" text-anchor="start" class="t">87</text>
<text x="546.5" y="628.8" font-size="8.2" text-anchor="start" class="t">86</text>
<text x="586.9" y="628.8" font-size="8.2" text-anchor="start" class="t">87A</text>
<text x="611.7" y="628.8" font-size="8.2" text-anchor="start" class="t">85</text>
<text x="577.8" y="664.5" font-size="8.2" text-anchor="start" class="t">30</text>
<text x="574.4" y="700.3" font-size="8.2" text-anchor="middle" class="t">16.8</text>
<text x="536.8" y="206.2" font-size="12.8" text-anchor="start" class="tb">(Bottom view)</text>
<text x="541.8" y="489.2" font-size="12.8" text-anchor="start" class="tb">(Bottom view)</text>
<text x="544.7" y="735.7" font-size="12.8" text-anchor="start" class="tb">(Bottom view)</text>
<g><path d="M443,26H452.5L456,29.5V40.8H443Z" fill="#b7c4dc"/><path d="M452.5,26V29.5H456" fill="#dfe6f0"/><g stroke="#f2f5fa" stroke-width="0.9"><line x1="444.5" y1="29" x2="449.5" y2="29"/><line x1="444.5" y1="31.3" x2="451" y2="31.3"/><line x1="444.5" y1="33.6" x2="454.5" y2="33.6"/><line x1="444.5" y1="35.9" x2="454.5" y2="35.9"/><line x1="444.5" y1="38.2" x2="454.5" y2="38.2"/></g><path d="M462.4,32.2H468.6L465.5,35.2Z" fill="#8c8c8c"/></g>
</svg></body></html>
